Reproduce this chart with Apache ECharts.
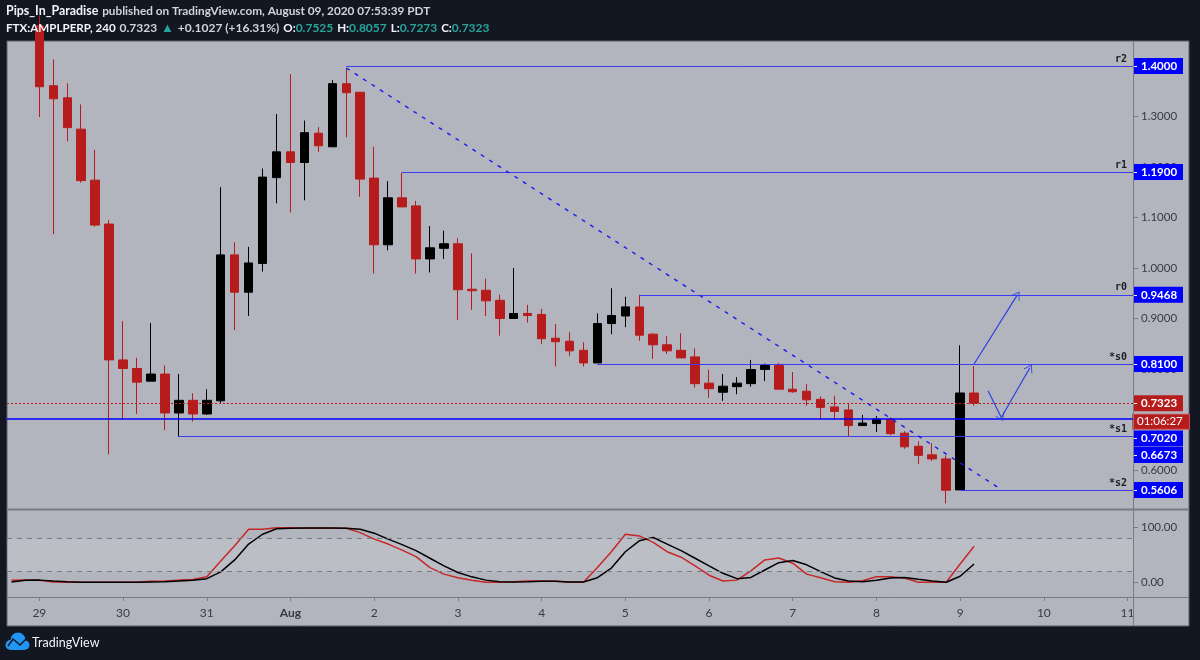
<!DOCTYPE html>
<html>
<head>
<meta charset="utf-8">
<title>FTX:AMPLPERP</title>
<script src="https://cdn.jsdelivr.net/npm/echarts@6/dist/echarts.min.js"></script>
<style>
  html, body { margin: 0; padding: 0; background: #131722; }
  #chart { width: 1200px; height: 660px; }
</style>
</head>
<body>
<div id="chart"></div>
<script>
// 4h candles, index 0 = 29 Jul 00:00
const opens = [
  1.48, 1.361, 1.337, 1.275, 1.174, 1.087, 0.818, 0.801, 0.776, 0.79,
  0.713, 0.738, 0.711, 0.737, 1.026, 0.952, 1.009, 1.179, 1.23, 1.209,
  1.267, 1.24, 1.365, 1.348, 1.178, 1.046, 1.139, 1.123, 1.018, 1.039,
  1.048, 0.958, 0.956, 0.936, 0.9, 0.91, 0.908, 0.861, 0.855, 0.837,
  0.812, 0.89, 0.905, 0.923, 0.869, 0.848, 0.837, 0.824, 0.772, 0.754,
  0.765, 0.771, 0.799, 0.807, 0.76, 0.756, 0.74, 0.725, 0.719, 0.688,
  0.692, 0.701, 0.673, 0.647, 0.63, 0.622, 0.5606, 0.7525
];
const closes = [
  1.359, 1.335, 1.278, 1.173, 1.085, 0.818, 0.801, 0.774, 0.79, 0.713,
  0.738, 0.711, 0.738, 1.026, 0.952, 1.01, 1.18, 1.23, 1.209, 1.268,
  1.242, 1.365, 1.347, 1.176, 1.046, 1.139, 1.121, 1.018, 1.04, 1.048,
  0.957, 0.955, 0.935, 0.9, 0.91, 0.906, 0.86, 0.854, 0.836, 0.812,
  0.89, 0.906, 0.923, 0.867, 0.848, 0.836, 0.822, 0.771, 0.761, 0.766,
  0.772, 0.799, 0.807, 0.76, 0.755, 0.739, 0.724, 0.716, 0.688, 0.693,
  0.701, 0.672, 0.646, 0.629, 0.622, 0.56, 0.7525, 0.7323
];
const lows = [
  1.299, 1.067, 1.251, 1.169, 1.082, 0.631, 0.7, 0.711, 0.776, 0.679,
  0.666, 0.696, 0.709, 0.733, 0.877, 0.905, 0.993, 1.128, 1.11, 1.134,
  1.23, 1.24, 1.259, 1.141, 0.989, 1.035, 1.121, 0.989, 0.991, 1.018,
  0.897, 0.917, 0.905, 0.866, 0.9, 0.892, 0.849, 0.805, 0.826, 0.805,
  0.812, 0.869, 0.883, 0.856, 0.82, 0.83, 0.822, 0.763, 0.743, 0.737,
  0.75, 0.765, 0.776, 0.76, 0.753, 0.727, 0.7, 0.7, 0.667, 0.688,
  0.675, 0.669, 0.642, 0.612, 0.618, 0.534, 0.5606, 0.7273
];
const highs = [
  1.5, 1.413, 1.366, 1.324, 1.234, 1.095, 0.895, 0.822, 0.891, 0.807,
  0.79, 0.752, 0.76, 1.16, 1.051, 1.042, 1.197, 1.305, 1.384, 1.292,
  1.279, 1.372, 1.395, 1.348, 1.24, 1.172, 1.189, 1.133, 1.083, 1.074,
  1.059, 1.029, 0.979, 0.947, 1.0, 0.927, 0.919, 0.889, 0.873, 0.853,
  0.91, 0.96, 0.943, 0.947, 0.871, 0.865, 0.871, 0.841, 0.799, 0.79,
  0.784, 0.818, 0.811, 0.812, 0.794, 0.77, 0.746, 0.747, 0.733, 0.709,
  0.707, 0.704, 0.677, 0.657, 0.653, 0.629, 0.847, 0.8057
];
// stochastic, starts two bars before index 0
const stochK = [
  3.7, 4, 3.7, 0.6, 0, 0, 0, 0, 0, 0, 2, 2.5, 4, 5, 10, 39, 67, 97, 97, 100,
  100, 99, 99, 99, 99, 91, 79, 70, 59, 47, 27, 15, 8.5, 3.7, 0, 0, 1, 2.5, 2.5, 2,
  0, 0, 27, 56, 88, 85, 73, 56, 46, 30, 13, 2.5, 4, 21, 41, 44.5, 35, 15, 8.5, 1,
  0, 3, 10, 10, 8, 0, 0, 0, 33.5, 66
];
const stochD = [
  0.6, 3.7, 4, 2.5, 1.2, 0, 0, 0, 0, 0, 0.6, 1, 2.5, 3.7, 6.7, 19, 41, 70, 88, 98,
  99, 99.4, 99.4, 99.4, 99, 97, 90, 79, 69, 58, 44, 30, 18, 10, 4, 1.2, 0.6, 1.2, 2, 2,
  0.6, 0.6, 8.5, 26, 56, 76, 82, 70, 58, 44, 30, 16.5, 6.7, 9, 22.5, 36, 40, 32, 19.5, 8,
  2.5, 1.2, 3.7, 8, 9, 5.5, 2.5, 0, 11, 33.5
];
const firstStochBar = -2;

const dayTicks = [0, 6, 12, 18, 24, 30, 36, 42, 48, 54, 60, 66, 72, 78];
const dayLabels = ['29', '30', '31', 'Aug', '2', '3', '4', '5', '6', '7', '8', '9', '10', '11'];

const priceTicks = [1.3, 1.2, 1.1, 1.0, 0.9, 0.8, 0.7, 0.6];
const stochTicks = [100, 0];
const stochBand = [80, 20];

// price, label, bar where the drawn level starts
const levelPrices = [1.4, 1.19, 0.9468, 0.81, 0.6673, 0.5606];
const levelNames = ['r2', 'r1', 'r0', '*s0', '*s1', '*s2'];
const levelStarts = [22, 26, 43, 40, 10, 66];
const fullLevel = 0.702;
const lastPrice = 0.7323;

const trendFrom = [22, 1.396];
const trendTo = [69, 0.5606];
const arrowPaths = [
  [[67, 0.81], [70.1, 0.9468]],
  [[68, 0.757], [68.95, 0.704]],
  [[68.95, 0.704], [71, 0.8026]]
];

// tags on the price scale: the two lower ones are pushed down by the countdown, as TradingView does
const blueTags = { 1.4: '1.4000', 1.19: '1.1900', 0.9468: '0.9468', 0.81: '0.8100', 0.6625: '0.7020', 0.6297: '0.6673', 0.5606: '0.5606' };
const redTags = { 0.7323: '0.7323' };
const timerTags = { 0.6957: '01:06:27' };

const xMin = -2.32;
const xMax = 78.39;
const priceMin = 0.5228;
const priceMax = 1.4495;
const stochMin = -26.9;
const stochMax = 132.4;

const uiFont = 'Lato, "Noto Sans", sans-serif';
const blue = '#0000ff';
const levelBlue = '#3c3cf0';
const candleRed = '#b71c1c';
const stochRed = '#c62828';
const axisText = '#363a45';
const paneLine = '#787b86';

const candleData = opens.map((o, i) => [i, o, closes[i], lows[i], highs[i]]);

const levelLines = levelPrices.map((p, i) => [
  { coord: [levelStarts[i], p], lineStyle: { color: levelBlue, width: 1 } },
  {
    coord: [xMax, p],
    label: {
      show: true,
      formatter: levelNames[i],
      position: 'insideEndTop',
      distance: [6, 2],
      color: '#1c1e26',
      fontFamily: '"DejaVu Sans Mono", monospace',
      fontWeight: 'bold',
      fontSize: 10
    }
  }
]);

const arrowLines = arrowPaths.map((a) => [
  { coord: a[0], symbol: 'none', symbolSize: 0 },
  { coord: a[1], symbol: 'path://M0,0L11,15L9,15L0,3L-9,15L-11,15Z', symbolSize: [10, 8] }
]);

const option = {
  animation: false,
  backgroundColor: '#131722',
  title: [
    {
      left: 6,
      top: 4,
      padding: 0,
      text: '{b|Pips_In_Paradise} {r|published on TradingView.com, August 09, 2020 07:53:39 PDT}',
      textStyle: {
        fontSize: 14,
        rich: {
          b: { color: '#f0f3fa', fontFamily: uiFont, fontSize: 12.4, fontWeight: 'bold' },
          r: { color: '#d1d4dc', fontFamily: uiFont, fontSize: 11.8 }
        }
      }
    },
    {
      left: 6,
      top: 21,
      padding: 0,
      text: '{b|FTX:AMPLPERP, 240} {r|0.7323} {u|▲} {r|+0.1027 (+16.31%)} {b|O:}{v|0.7525} {b|H:}{v|0.8057} {b|L:}{v|0.7273} {b|C:}{v|0.7323}',
      textStyle: {
        fontSize: 14,
        rich: {
          b: { color: '#f0f3fa', fontFamily: uiFont, fontSize: 11.6, fontWeight: 'bold' },
          r: { color: '#d1d4dc', fontFamily: uiFont, fontSize: 12 },
          u: { color: '#26a69a', fontFamily: uiFont, fontSize: 13 },
          v: { color: '#26a69a', fontFamily: uiFont, fontSize: 12 }
        }
      }
    }
  ],
  graphic: [
    // pane background and frame
    { type: 'rect', z: -10, shape: { x: 7, y: 41, width: 1182, height: 585 }, style: { fill: '#b2b5be', stroke: '#5d606b', lineWidth: 1 } },
    { type: 'line', z: 20, shape: { x1: 7, y1: 509.5, x2: 1189, y2: 509.5 }, style: { stroke: paneLine, lineWidth: 2 } },
    { type: 'line', z: 20, shape: { x1: 7, y1: 597.5, x2: 1189, y2: 597.5 }, style: { stroke: paneLine, lineWidth: 1 } },
    { type: 'line', z: 20, shape: { x1: 1133.5, y1: 41, x2: 1133.5, y2: 626 }, style: { stroke: paneLine, lineWidth: 1 } },
    // logo
    { type: 'circle', z: 20, shape: { cx: 18, cy: 640, r: 7.5 }, style: { fill: '#2196f3' } },
    { type: 'circle', z: 20, shape: { cx: 10.5, cy: 645, r: 5 }, style: { fill: '#2196f3' } },
    { type: 'circle', z: 20, shape: { cx: 25, cy: 645, r: 4.5 }, style: { fill: '#2196f3' } },
    { type: 'rect', z: 20, shape: { x: 10, y: 644, width: 15, height: 6 }, style: { fill: '#2196f3' } },
    {
      type: 'polyline',
      z: 21,
      shape: { points: [[8, 646], [13, 639], [20, 645], [27, 638]] },
      style: { stroke: '#131722', fill: 'none', lineWidth: 1.5 }
    },
    {
      type: 'text',
      z: 21,
      style: { x: 32, y: 636, text: 'TradingView', fill: '#f0f3fa', font: '12.5px ' + uiFont }
    }
  ],
  grid: [
    { left: 7, top: 41, width: 1126, height: 468, show: false },
    { left: 7, top: 510, width: 1126, height: 87, show: false }
  ],
  xAxis: [
    { type: 'value', gridIndex: 0, min: xMin, max: xMax, show: false, axisLine: { onZero: false }, splitLine: { show: false } },
    {
      type: 'value',
      gridIndex: 1,
      min: xMin,
      max: xMax,
      splitLine: { show: false },
      axisLine: { show: false, onZero: false },
      axisTick: { show: true, customValues: dayTicks, length: 4, lineStyle: { color: paneLine } },
      axisLabel: {
        customValues: dayTicks,
        margin: 10,
        fontFamily: uiFont,
        fontSize: 12,
        color: axisText,
        showMinLabel: true,
        showMaxLabel: true,
        formatter: (v) => {
          const s = dayLabels[dayTicks.indexOf(v)];
          return s === 'Aug' ? '{m|' + s + '}' : s;
        },
        rich: { m: { fontWeight: 'bold', fontFamily: uiFont, fontSize: 12, color: axisText } }
      }
    }
  ],
  yAxis: [
    {
      type: 'value',
      gridIndex: 0,
      position: 'right',
      min: priceMin,
      max: priceMax,
      splitLine: { show: false },
      axisLine: { show: false, onZero: false },
      axisTick: { show: true, customValues: priceTicks, length: 5, lineStyle: { color: paneLine } },
      axisLabel: {
        customValues: priceTicks
          .concat(Object.keys(blueTags).map(Number))
          .concat(Object.keys(redTags).map(Number))
          .concat(Object.keys(timerTags).map(Number)),
        margin: 0,
        align: 'left',
        showMinLabel: true,
        showMaxLabel: true,
        fontFamily: uiFont,
        fontSize: 11.5,
        color: axisText,
        formatter: (v) => {
          if (blueTags[v]) return '{tag|' + blueTags[v] + '}';
          if (redTags[v]) return '{red|' + redTags[v] + '}';
          if (timerTags[v]) return '{timer|' + timerTags[v] + '}';
          return '{plain|' + v.toFixed(4) + '}';
        },
        rich: {
          plain: { color: axisText, fontFamily: uiFont, fontSize: 11.5, padding: [0, 0, 0, 8] },
          tag: { color: '#fff', fontFamily: uiFont, fontSize: 11.5, fontWeight: 'bold', backgroundColor: blue, width: 42, padding: [2, 0, 2, 8], lineHeight: 14 },
          red: { color: '#fff', fontFamily: uiFont, fontSize: 11.5, fontWeight: 'bold', backgroundColor: candleRed, width: 42, padding: [2, 0, 2, 8], lineHeight: 14 },
          timer: { color: '#fff', fontFamily: uiFont, fontSize: 11.5, backgroundColor: candleRed, borderColor: '#c65050', borderWidth: 1, width: 52, padding: [1, 0, 1, 4], lineHeight: 14 }
        }
      }
    },
    {
      // white dashes over the blue and red tags
      type: 'value',
      gridIndex: 0,
      position: 'right',
      z: 8,
      min: priceMin,
      max: priceMax,
      splitLine: { show: false },
      axisLine: { show: false, onZero: false },
      axisLabel: { show: false },
      axisTick: {
        show: true,
        customValues: Object.keys(blueTags).map(Number).concat(Object.keys(redTags).map(Number)),
        length: 4,
        lineStyle: { color: '#fff' }
      }
    },
    {
      type: 'value',
      gridIndex: 1,
      position: 'right',
      min: stochMin,
      max: stochMax,
      splitLine: { show: false },
      axisLine: { show: false, onZero: false },
      axisTick: { show: true, customValues: stochTicks, length: 5, lineStyle: { color: paneLine } },
      axisLabel: {
        customValues: stochTicks,
        margin: 8,
        fontFamily: uiFont,
        fontSize: 11.5,
        color: axisText,
        formatter: (v) => v.toFixed(2)
      }
    }
  ],
  series: [
    {
      type: 'candlestick',
      name: 'AMPLPERP',
      xAxisIndex: 0,
      yAxisIndex: 0,
      barWidth: 9,
      clip: true,
      encode: { x: 0, y: [1, 2, 3, 4] },
      data: candleData,
      itemStyle: {
        color: '#000000',
        color0: candleRed,
        borderColor: '#000000',
        borderColor0: candleRed,
        borderWidth: 1
      }
    },
    {
      // helper series, only carries the drawn levels and arrows
      type: 'line',
      name: 'drawings',
      xAxisIndex: 0,
      yAxisIndex: 0,
      data: [],
      silent: true,
      markLine: {
        silent: true,
        symbol: 'none',
        animation: false,
        label: { show: false },
        lineStyle: { color: levelBlue, width: 1, type: 'solid' },
        data: levelLines
          .concat([
            [
              { coord: [xMin, fullLevel], lineStyle: { color: blue, width: 1.5 } },
              { coord: [xMax, fullLevel] }
            ],
            [
              { coord: [xMin, lastPrice], lineStyle: { color: candleRed, width: 1, type: [2, 2] } },
              { coord: [xMax, lastPrice] }
            ],
            [
              { coord: trendFrom, lineStyle: { color: '#1a1af0', width: 1.4, type: [4, 6] } },
              { coord: trendTo }
            ]
          ])
          .concat(arrowLines.map((a) => [
            Object.assign({ lineStyle: { color: '#2a3fe0', width: 1.2 } }, a[0]),
            a[1]
          ]))
      }
    },
    {
      type: 'line',
      name: '%K',
      xAxisIndex: 1,
      yAxisIndex: 2,
      symbol: 'none',
      z: 3,
      lineStyle: { color: stochRed, width: 1.5 },
      data: stochK.map((v, n) => [n + firstStochBar, v]),
      markArea: {
        silent: true,
        itemStyle: { color: 'rgba(255,255,255,0.13)' },
        data: [[{ yAxis: stochBand[0] }, { yAxis: stochBand[1] }]]
      },
      markLine: {
        silent: true,
        symbol: 'none',
        label: { show: false },
        lineStyle: { color: paneLine, width: 1, type: [5, 5] },
        data: stochBand.map((v) => ({ yAxis: v }))
      }
    },
    {
      type: 'line',
      name: '%D',
      xAxisIndex: 1,
      yAxisIndex: 2,
      symbol: 'none',
      z: 4,
      lineStyle: { color: '#000000', width: 1.5 },
      data: stochD.map((v, n) => [n + firstStochBar, v])
    }
  ]
};

const chart = echarts.init(document.getElementById('chart'), null, { renderer: 'canvas' });
chart.setOption(option);
</script>
</body>
</html>
